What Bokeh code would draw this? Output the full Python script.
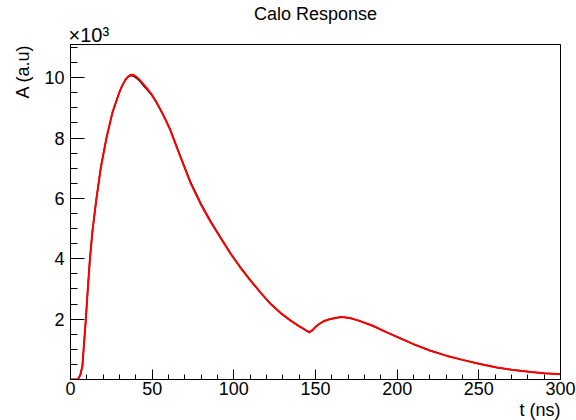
import numpy as np
from bokeh.plotting import figure
from bokeh.models import FixedTicker, Range1d, ColumnDataSource, Title
from bokeh.embed import file_html
from bokeh.resources import INLINE

# ---- data (A in units of 10^3) ----
t_ns = [0, 4.5, 6, 7.3, 8.3, 9.4, 10.6, 11.8, 13.5, 15.9, 18.5, 22, 25.7, 29.8,
        31.5, 33.5, 35.3, 37, 38.7, 40.5, 42.5, 45, 47.5, 50, 52.5, 55, 58, 61,
        67, 73.6, 80, 85.8, 92, 98, 104, 110.3, 116.5, 122.6, 128.7, 134.8,
        140, 144, 146.2, 148, 150, 152, 155, 158, 162, 166, 171, 176, 185, 193,
        200, 210, 220, 230, 240, 250, 261, 270, 282, 290, 300]
fit_A = [0, 0, 0.15, 0.45, 1.2, 2.0, 3.0, 3.93, 4.95, 6.0, 7.0, 8.0, 8.85, 9.5,
         9.72, 9.92, 10.04, 10.1, 10.09, 10.02, 9.92, 9.76, 9.6, 9.42, 9.2,
         8.95, 8.63, 8.28, 7.42, 6.5, 5.78, 5.22, 4.68, 4.17, 3.71, 3.27, 2.87,
         2.5, 2.2, 1.95, 1.77, 1.64, 1.57, 1.63, 1.74, 1.83, 1.93, 1.99, 2.04,
         2.07, 2.04, 1.96, 1.78, 1.58, 1.41, 1.17, 0.96, 0.79, 0.65, 0.52,
         0.40, 0.32, 0.25, 0.21, 0.17]
data_A = [0, 0, 0.15, 0.45, 1.2, 2.0, 3.0, 3.93, 4.95, 6.0, 7.0, 8.0, 8.85, 9.5,
          9.72, 9.92, 10.03, 10.07, 10.05, 9.98, 9.88, 9.72, 9.57, 9.4, 9.18,
          8.94, 8.63, 8.29, 7.44, 6.53, 5.81, 5.25, 4.7, 4.18, 3.72, 3.28, 2.87,
          2.5, 2.2, 1.95, 1.76, 1.63, 1.55, 1.62, 1.74, 1.83, 1.93, 1.99, 2.04,
          2.07, 2.04, 1.96, 1.78, 1.58, 1.41, 1.17, 0.96, 0.79, 0.65, 0.52,
          0.40, 0.32, 0.25, 0.21, 0.17]

x_major = [0, 50, 100, 150, 200, 250, 300]
y_major = [2, 4, 6, 8, 10]

FONT = "Liberation Sans"

p = figure(width=576, height=420, output_backend="svg", toolbar_location=None,
           x_range=Range1d(0, 300), y_range=Range1d(0, 11.1),
           min_border_left=70, min_border_right=16, min_border_top=44,
           min_border_bottom=41)
p.background_fill_color = "white"
p.border_fill_color = "white"
p.outline_line_color = "black"
p.outline_line_width = 1
p.xgrid.visible = False
p.ygrid.visible = False

x_minor = [float(v) for v in np.arange(0, 301, 10) if v % 50 != 0]
y_minor = [float(v) for v in np.arange(0, 11.01, 0.5) if v % 2 != 0]
p.xaxis.ticker = FixedTicker(ticks=x_major, minor_ticks=x_minor)
p.yaxis.ticker = FixedTicker(ticks=y_major, minor_ticks=y_minor)

for ax in (p.xaxis[0], p.yaxis[0]):
    ax.axis_line_color = "black"
    ax.major_tick_line_color = "black"
    ax.minor_tick_line_color = "black"
    ax.major_tick_out = 0
    ax.minor_tick_out = 0
    ax.major_label_text_font = FONT
    ax.major_label_text_font_size = "18px"
    ax.major_label_text_color = "black"

p.xaxis.major_tick_in = 10
p.xaxis.minor_tick_in = 5
p.xaxis.major_label_standoff = 2
p.yaxis.major_tick_in = 14
p.yaxis.minor_tick_in = 7
p.yaxis.major_label_standoff = 6

src = ColumnDataSource(dict(t=t_ns, fit=fit_A, data=data_A))
p.line("t", "data", source=src, line_color="black", line_width=1.5)
p.line("t", "fit", source=src, line_color="#ff0000", line_width=2)

def title(text, size, align, standoff, offset=0):
    return Title(text=text, align=align, text_font=FONT, text_font_size=size,
                 text_font_style="normal", text_color="black",
                 standoff=standoff, offset=offset)

# axis titles, right/top aligned like ROOT
p.add_layout(title("t (ns)", "18px", "right", 0), "below")
p.add_layout(title("A (a.u)", "18px", "right", 18), "left")
# exponent label (closest to the frame), then main title
p.add_layout(title("×10³", "20px", "left", -3, -2), "above")
p.add_layout(title("Calo Response", "18px", "center", 0), "above")

open("out.html", "w").write(file_html(p, INLINE))
